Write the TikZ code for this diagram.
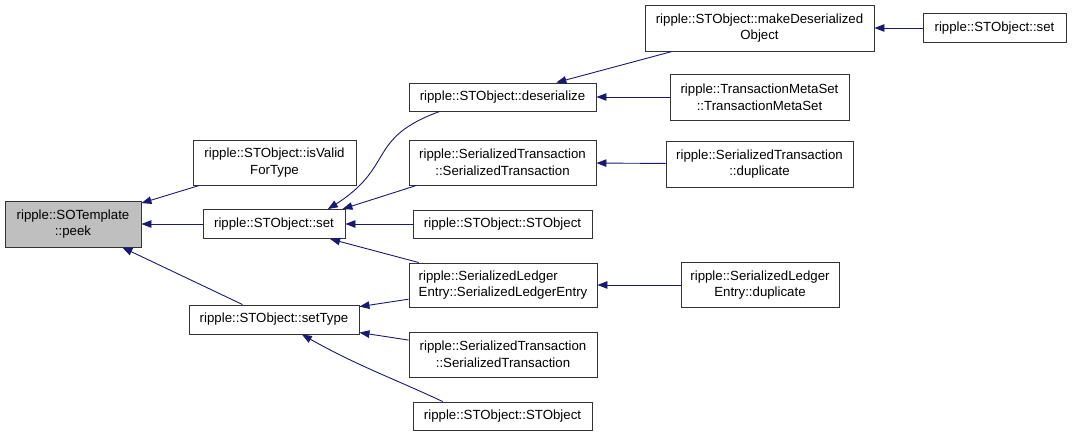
\documentclass[tikz,border=0pt]{standalone}
\usepackage{fontspec}
\setmainfont{Liberation Sans}
\usetikzlibrary{arrows.meta,bending}
\definecolor{edgeblue}{HTML}{191970}
\definecolor{rootgray}{HTML}{BFBFBF}

\begin{document}
\begin{tikzpicture}[x=1bp,y=1bp,
  fn/.style={draw=black!80,line width=0.9bp,fill=white,inner sep=0pt,align=center,
    font=\fontsize{13.3}{16.6}\selectfont},
  call/.style={draw=edgeblue,line width=0.9bp,-{Triangle[length=10bp,width=7.5bp,bend]},fill=none}]
  \useasboundingbox (0,0) rectangle (1072,-436);

  % functions
  \node[fn,fill=rootgray,minimum width=136bp,minimum height=46bp] (peek) at (73,-224) {ripple::SOTemplate\\::peek};
  \node[fn,minimum width=163bp,minimum height=45bp] (valid) at (274.5,-162.5) {ripple::STObject::isValid\\ForType};
  \node[fn,minimum width=142bp,minimum height=29bp] (set) at (274,-224) {ripple::STObject::set};
  \node[fn,minimum width=170bp,minimum height=29bp] (settype) at (274,-319.5) {ripple::STObject::setType};
  \node[fn,minimum width=187bp,minimum height=28bp] (deser) at (502.5,-97) {ripple::STObject::deserialize};
  \node[fn,minimum width=187bp,minimum height=45bp] (stupper) at (502.5,-162.5) {ripple::SerializedTransaction\\::SerializedTransaction};
  \node[fn,minimum width=179bp,minimum height=28bp] (stobja) at (502.5,-224) {ripple::STObject::STObject};
  \node[fn,align=left,minimum width=188bp,minimum height=44bp] (sle) at (503,-285) {ripple::SerializedLedger\\Entry::SerializedLedgerEntry};
  \node[fn,minimum width=188bp,minimum height=45bp] (stlower) at (503,-354.5) {ripple::SerializedTransaction\\::SerializedTransaction};
  \node[fn,minimum width=179bp,minimum height=28bp] (stobjb) at (502.5,-416) {ripple::STObject::STObject};
  \node[fn,minimum width=229bp,minimum height=46bp] (makedeser) at (759.5,-28) {ripple::STObject::makeDeserialized\\Object};
  \node[fn,minimum width=143bp,minimum height=29bp] (rset) at (994.5,-28) {ripple::STObject::set};
  \node[fn,minimum width=179bp,minimum height=46bp] (tms) at (759.5,-97) {ripple::TransactionMetaSet\\::TransactionMetaSet};
  \node[fn,minimum width=187bp,minimum height=46bp] (stdup) at (759.5,-164) {ripple::SerializedTransaction\\::duplicate};
  \node[fn,minimum width=158bp,minimum height=45bp] (sledup) at (760,-285) {ripple::SerializedLedger\\Entry::duplicate};

  % calls
  \draw[call] (valid) -- (peek);
  \draw[call] (set) -- (peek);
  \draw[call] (settype) -- (peek);
  \draw[call] ([xshift=-63]deser.south) to[out=200,in=30,looseness=1.4] ([xshift=54]set.north);
  \draw[call] ([xshift=8]stupper.south west) -- ([xshift=-3]set.north east);
  \draw[call] (stobja) -- (set);
  \draw[call] (sle) -- (set);
  \draw[call] (sle) -- (settype);
  \draw[call] (stlower) -- (settype);
  \draw[call] ([xshift=-60]stobjb.north) to[out=155,in=-30] ([xshift=28]settype.south);
  \draw[call] (makedeser) -- (deser);
  \draw[call] (tms) -- (deser);
  \draw[call] (stdup) -- (stupper);
  \draw[call] (sledup) -- (sle);
  \draw[call] (rset) -- (makedeser);
\end{tikzpicture}
\end{document}
